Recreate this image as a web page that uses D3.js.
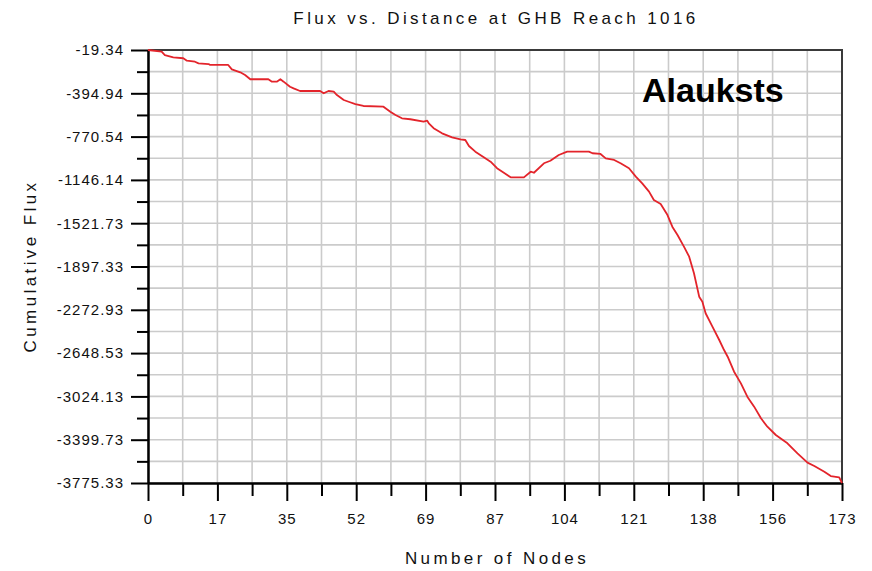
<!DOCTYPE html>
<html>
<head>
<meta charset="utf-8">
<script src="https://cdn.jsdelivr.net/npm/d3@7"></script>
<style>
  body { margin: 0; background: #fff; }
  .tick-lbl { font-family: 'Liberation Sans', Arial, sans-serif; font-size: 15px; letter-spacing: 1px; fill: #111; }
  .anno { font-family: 'Liberation Sans', Arial, sans-serif; font-size: 17px; letter-spacing: 3.4px; fill: #111; }
</style>
</head>
<body>
<div id="chart"></div>
<script>
// nodes along the reach and cumulative flux
const nodes = [0, 3.4, 4.2, 6.3, 8.8, 9.7, 11.7, 12.6, 15.1, 15.5, 20.0, 20.9, 23.0, 24.2, 25.5,
  30.0, 30.9, 32.1, 33.0, 33.8, 35.4, 36.3, 37.9, 42.9, 43.8, 45.0, 46.3, 47.1, 48.8, 50.0,
  51.7, 53.7, 58.7, 60.4, 61.7, 63.3, 65.4, 68.7, 69.6, 70.0, 71.2, 73.3, 75.8, 77.9, 79.1,
  80.0, 81.6, 83.7, 85.4, 87.0, 88.7, 90.4, 93.7, 95.4, 96.2, 98.7, 100.3, 102.4, 104.5,
  109.9, 110.8, 112.8, 114.1, 116.2, 117.8, 119.9, 121.6, 123.2, 124.9, 126.1, 127.8, 129.5,
  130.7, 132.0, 133.6, 134.9, 136.1, 137.4, 138.2, 139.0, 140.7, 142.4, 143.6, 144.5, 146.1,
  147.8, 149.4, 151.1, 152.8, 154.4, 156.5, 159.4, 161.9, 164.4, 166.1, 168.6, 170.2, 172.3, 173];
const flux = [-19.34, -34, -63, -83, -91, -112, -121, -135, -141, -149, -149, -187, -213, -236, -273,
  -273, -294, -294, -273, -294, -338, -352, -375, -375, -395, -375, -381, -410, -453, -468,
  -488, -505, -511, -555, -583, -612, -620, -641, -633, -655, -698, -742, -777, -794, -800,
  -852, -901, -950, -988, -1045, -1084, -1124, -1124, -1075, -1084, -1002, -980, -930, -901,
  -901, -915, -921, -959, -973, -1002, -1045, -1118, -1176, -1248, -1320, -1355, -1451,
  -1552, -1624, -1725, -1812, -1956, -2159, -2203, -2303, -2419, -2535, -2622, -2680, -2810,
  -2911, -3027, -3113, -3214, -3287, -3359, -3431, -3518, -3599, -3628, -3677, -3715, -3726, -3775.33];

const xTickLabels = ['0', '17', '35', '52', '69', '87', '104', '121', '138', '156', '173'];
const yTickLabels = ['-19.34', '-394.94', '-770.54', '-1146.14', '-1521.73', '-1897.33',
  '-2272.93', '-2648.53', '-3024.13', '-3399.73', '-3775.33'];

const margin = { top: 50, right: 30, bottom: 88, left: 148 };
const W = 872, H = 571;
const width = W - margin.left - margin.right;
const height = H - margin.top - margin.bottom;

const svg = d3.select('#chart')
  .append('svg')
  .attr('width', W)
  .attr('height', H)
  .append('g')
  .attr('transform', `translate(${margin.left},${margin.top})`);

const xMin = 0, xMax = 173;
const yTop = -19.34, yBot = -3775.33;

const xScale = d3.scaleLinear().domain([xMin, xMax]).range([0, width]);
const yScale = d3.scaleLinear().domain([yBot, yTop]).range([height, 0]);

// 10 major steps, one minor tick between each
const xMajor = d3.range(11).map(i => xMin + i * (xMax - xMin) / 10);
const xMinor = d3.range(10).map(i => xMin + (i + 0.5) * (xMax - xMin) / 10);
const yMajor = d3.range(11).map(i => yTop + i * (yBot - yTop) / 10);
const yMinor = d3.range(10).map(i => yTop + (i + 0.5) * (yBot - yTop) / 10);

// grid
const grid = svg.append('g').attr('stroke', '#cbcbcb').attr('stroke-width', 1.6);
grid.selectAll('.vg')
  .data(xMajor.concat(xMinor))
  .enter().append('line')
  .attr('x1', d => xScale(d)).attr('x2', d => xScale(d))
  .attr('y1', 0).attr('y2', height);
grid.selectAll('.hg')
  .data(yMajor.concat(yMinor))
  .enter().append('line')
  .attr('x1', 0).attr('x2', width)
  .attr('y1', d => yScale(d)).attr('y2', d => yScale(d));

// frame top / right
svg.append('path')
  .attr('d', `M0,0H${width}V${height}`)
  .attr('fill', 'none')
  .attr('stroke', '#3a3a3a')
  .attr('stroke-width', 2);

// axes
const yAxis = d3.axisLeft(yScale)
  .tickValues(yMajor)
  .tickSize(17)
  .tickSizeOuter(0)
  .tickPadding(7)
  .tickFormat((d, i) => yTickLabels[i]);
const yAxisMinor = d3.axisLeft(yScale).tickValues(yMinor).tickSize(11).tickSizeOuter(0).tickFormat('');

const xAxis = d3.axisBottom(xScale)
  .tickValues(xMajor)
  .tickSize(18)
  .tickSizeOuter(0)
  .tickPadding(12)
  .tickFormat((d, i) => xTickLabels[i]);
const xAxisMinor = d3.axisBottom(xScale).tickValues(xMinor).tickSize(13).tickSizeOuter(0).tickFormat('');

svg.append('g').call(yAxisMinor);
svg.append('g').call(yAxis).selectAll('text').attr('class', 'tick-lbl').attr('fill', null);
svg.append('g').attr('transform', `translate(0,${height})`).call(xAxisMinor);
svg.append('g').attr('transform', `translate(0,${height})`).call(xAxis)
  .selectAll('text').attr('class', 'tick-lbl').attr('fill', null);

svg.selectAll('.domain, .tick line')
  .attr('stroke', '#000')
  .attr('stroke-width', 2);

// curve
const line = d3.line()
  .x(d => xScale(d[0]))
  .y(d => yScale(d[1]));

svg.append('path')
  .datum(d3.zip(nodes, flux))
  .attr('d', line)
  .attr('fill', 'none')
  .attr('stroke', '#e3242b')
  .attr('stroke-width', 1.8)
  .attr('stroke-linejoin', 'round');

// titles
svg.append('text')
  .attr('class', 'anno')
  .attr('text-anchor', 'middle')
  .attr('x', 496 - margin.left)
  .attr('y', 24 - margin.top)
  .text('Flux vs. Distance at GHB Reach 1016');

svg.append('text')
  .attr('class', 'anno')
  .attr('text-anchor', 'middle')
  .attr('x', 497 - margin.left)
  .attr('y', 564 - margin.top)
  .text('Number of Nodes');

svg.append('text')
  .attr('class', 'anno')
  .attr('text-anchor', 'middle')
  .attr('transform', `translate(${36 - margin.left},${266 - margin.top}) rotate(-90)`)
  .text('Cumulative Flux');

svg.append('text')
  .attr('x', 642 - margin.left)
  .attr('y', 102 - margin.top)
  .style('font-family', "'Liberation Sans', Arial, sans-serif")
  .style('font-weight', 'bold')
  .style('font-size', '34px')
  .style('fill', '#000')
  .text('Alauksts');
</script>
</body>
</html>
